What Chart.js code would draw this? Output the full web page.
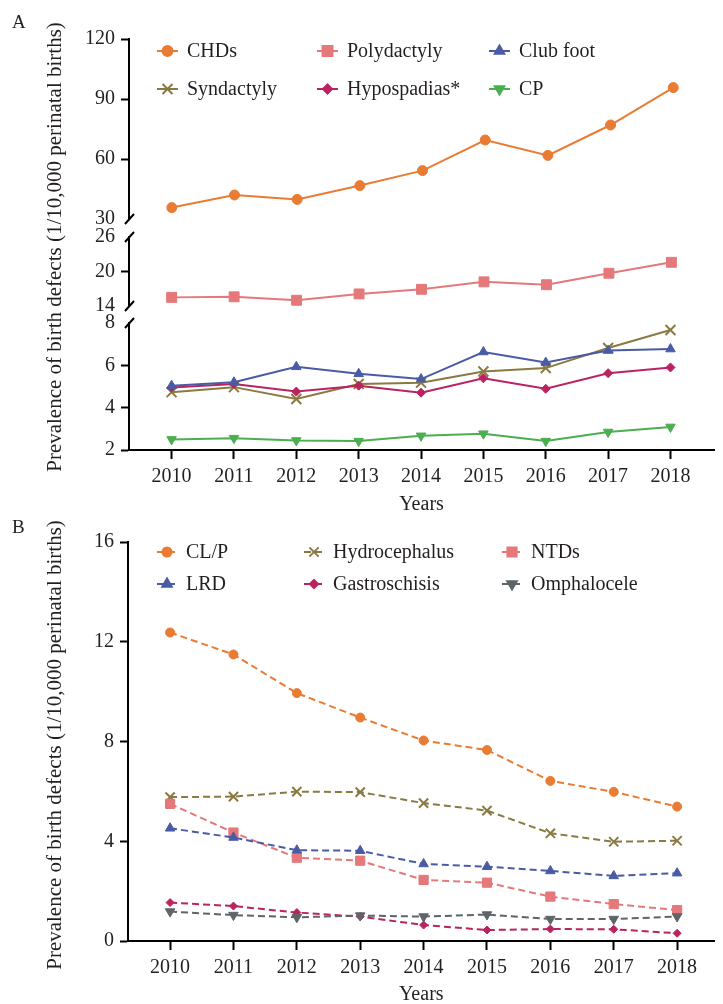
<!DOCTYPE html>
<html>
<head>
<meta charset="utf-8">
<script src="https://cdn.jsdelivr.net/npm/chart.js@4.4.0/dist/chart.umd.min.js"></script>
<style>
html, body { margin: 0; padding: 0; background: #fff; }
#wrap { position: relative; width: 723px; height: 1004px; overflow: hidden; }
#wrap canvas { position: absolute; left: 0; top: 0; }
</style>
</head>
<body>
<div id="wrap">
  <canvas id="a1" width="723" height="1004"></canvas>
  <canvas id="a2" width="723" height="1004"></canvas>
  <canvas id="a3" width="723" height="1004"></canvas>
  <canvas id="b" width="723" height="1004"></canvas>
</div>
<script>
// years on the x axis (both panels)
var years = [2010, 2011, 2012, 2013, 2014, 2015, 2016, 2017, 2018]

// panel A, per 10,000 perinatal births
var chds = [35.7, 42.0, 39.8, 46.7, 54.2, 69.5, 61.8, 77.0, 95.7]
var polydactyly = [15.5, 15.6, 15.0, 16.1, 16.9, 18.2, 17.7, 19.7, 21.6]
var clubFoot = [5.04, 5.20, 5.93, 5.60, 5.35, 6.63, 6.13, 6.70, 6.77]
var syndactyly = [4.73, 4.97, 4.41, 5.12, 5.18, 5.71, 5.87, 6.82, 7.67]
var hypospadias = [4.95, 5.12, 4.76, 5.04, 4.71, 5.39, 4.89, 5.63, 5.90]
var cp = [2.50, 2.56, 2.45, 2.42, 2.67, 2.77, 2.42, 2.85, 3.09]

// panel B
var clp = [12.37, 11.49, 9.94, 8.96, 8.04, 7.66, 6.42, 5.98, 5.39]
var hydrocephalus = [5.77, 5.79, 5.99, 5.97, 5.53, 5.23, 4.32, 3.98, 4.02]
var ntds = [5.50, 4.35, 3.34, 3.22, 2.45, 2.34, 1.78, 1.48, 1.24]
var lrd = [4.52, 4.15, 3.64, 3.62, 3.09, 2.98, 2.81, 2.61, 2.72]
var gastroschisis = [1.54, 1.40, 1.14, 0.98, 0.64, 0.44, 0.48, 0.47, 0.31]
var omphalocele = [1.18, 1.04, 0.95, 1.02, 0.98, 1.06, 0.88, 0.88, 0.98]

// y tick labels for the three broken segments of A, and for B
var ticksA1 = [30, 60, 90, 120]
var ticksA2 = [14, 20, 26]
var ticksA3 = [2, 4, 6, 8]
var ticksB = [0, 4, 8, 12, 16]

var FONT = "'Liberation Serif', 'Times New Roman', serif"
var TEXT = '#231f20'
var ORANGE = '#e97b32', SALMON = '#e5787a', BLUE = '#4a5ba6', OLIVE = '#8a7a41',
    MAGENTA = '#ba2360', GREEN = '#4bae4f', GRAY = '#5e6468'

function series(label, values, color, style, radius, rotation, dashed) {
    return {
        label: label,
        data: years.map(function (y, i) { return {x: y, y: values[i]} }),
        borderColor: color,
        backgroundColor: color,
        pointBackgroundColor: color,
        pointBorderColor: color,
        pointStyle: style,
        pointRadius: radius,
        pointRotation: rotation || 0,
        pointBorderWidth: style == 'crossRot' ? 2 : 1,
        borderWidth: 2,
        borderDash: dashed ? [7, 4] : [],
        tension: 0
    }
}

var dsCHDs = series('CHDs', chds, ORANGE, 'circle', 5)
var dsPoly = series('Polydactyly', polydactyly, SALMON, 'rect', 7)
var dsClub = series('Club foot', clubFoot, BLUE, 'triangle', 5.5)
var dsSynd = series('Syndactyly', syndactyly, OLIVE, 'crossRot', 7)
var dsHypo = series('Hypospadias*', hypospadias, MAGENTA, 'rectRot', 4.5)
var dsCP = series('CP', cp, GREEN, 'triangle', 5.5, 180)

var dsCLP = series('CL/P', clp, ORANGE, 'circle', 4.5, 0, true)
var dsHydro = series('Hydrocephalus', hydrocephalus, OLIVE, 'crossRot', 6.5, 0, true)
var dsNTD = series('NTDs', ntds, SALMON, 'rect', 6.5, 0, true)
var dsLRD = series('LRD', lrd, BLUE, 'triangle', 5.5, 0, true)
var dsGast = series('Gastroschisis', gastroschisis, MAGENTA, 'rectRot', 4, 0, true)
var dsOmph = series('Omphalocele', omphalocele, GRAY, 'triangle', 5.5, 180, true)

// legend laid out on a fixed grid, like the figure
var gridLegend = {
    id: 'gridLegend',
    afterDraw: function (chart, args, o) {
        if (!o.items) return
        var ctx = chart.ctx
        ctx.save()
        o.items.forEach(function (ds, i) {
            var x = o.cols[i % 3], y = o.rows[Math.floor(i / 3)]
            ctx.strokeStyle = ds.borderColor
            ctx.lineWidth = 2
            ctx.setLineDash(ds.borderDash)
            ctx.beginPath()
            ctx.moveTo(x, y)
            ctx.lineTo(x + o.lineLen, y)
            ctx.stroke()
            ctx.setLineDash([])
            ctx.fillStyle = ds.pointBackgroundColor
            Chart.helpers.drawPoint(ctx, {
                pointStyle: ds.pointStyle, radius: ds.pointRadius, rotation: ds.pointRotation,
                borderWidth: ds.pointBorderWidth
            }, x + o.lineLen / 2, y)
            ctx.fillStyle = TEXT
            ctx.font = '20px ' + FONT
            ctx.textBaseline = 'middle'
            ctx.textAlign = 'left'
            ctx.fillText(ds.label, x + o.textGap, y + 1)
        })
        ctx.restore()
    }
}

// panel letter and the long y title
var panelText = {
    id: 'panelText',
    afterDraw: function (chart, args, o) {
        if (!o.letter) return
        var ctx = chart.ctx
        ctx.save()
        ctx.fillStyle = TEXT
        ctx.font = '19px ' + FONT
        ctx.textBaseline = 'middle'
        ctx.textAlign = 'left'
        ctx.fillText(o.letter, 12, o.letterY)
        ctx.translate(55, o.titleY)
        ctx.rotate(-Math.PI / 2)
        ctx.textAlign = 'center'
        ctx.font = '21px ' + FONT
        ctx.fillText('Prevalence of birth defects (1/10,000 perinatal births)', 0, 0)
        ctx.restore()
    }
}

// little slashes where the y axis is cut
var axisBreaks = {
    id: 'axisBreaks',
    afterDraw: function (chart, args, o) {
        if (!o.ends) return
        var ctx = chart.ctx, a = chart.chartArea
        ctx.save()
        ctx.strokeStyle = '#000'
        ctx.lineWidth = 2
        o.ends.forEach(function (e) {
            var y = e == 'top' ? a.top : a.bottom
            ctx.beginPath()
            ctx.moveTo(a.left - 4, y + 5)
            ctx.lineTo(a.left + 5, y - 5)
            ctx.stroke()
        })
        ctx.restore()
    }
}

function makeChart(id, c) {
    return new Chart(document.getElementById(id), {
        type: 'line',
        data: {datasets: c.datasets},
        options: {
            responsive: false,
            animation: false,
            devicePixelRatio: 1,
            layout: {padding: {top: c.top, bottom: c.bottom, left: 0, right: c.right}},
            plugins: {
                legend: {display: false},
                tooltip: {enabled: false},
                gridLegend: c.legend || {},
                panelText: c.panel || {},
                axisBreaks: {ends: c.breaks}
            },
            scales: {
                x: {
                    type: 'linear',
                    display: c.showX,
                    min: c.xMin,
                    max: c.xMax,
                    afterBuildTicks: function (s) { s.ticks = years.map(function (v) { return {value: v} }) },
                    afterFit: function (s) { s.height = c.xHeight },
                    grid: {drawOnChartArea: false, tickLength: 9, tickWidth: 2, tickColor: '#000'},
                    border: {color: '#000', width: 2},
                    ticks: {
                        color: TEXT, font: {family: FONT, size: 20}, padding: 6,
                        maxRotation: 0, autoSkip: false,
                        callback: function (v) { return String(v) }
                    },
                    title: {
                        display: true, text: 'Years', color: TEXT,
                        font: {family: FONT, size: 20, lineHeight: c.titleLH}, padding: 0
                    }
                },
                y: {
                    min: c.yTicks[0],
                    max: c.yTicks[c.yTicks.length - 1],
                    afterBuildTicks: function (s) { s.ticks = c.yTicks.map(function (v) { return {value: v} }) },
                    afterFit: function (s) { s.width = c.yWidth },
                    grid: {
                        drawOnChartArea: false, tickLength: 8, tickWidth: 2,
                        tickColor: function (t) {
                            return (c.cut || []).indexOf(t.tick.value) >= 0 ? 'rgba(0,0,0,0)' : '#000'
                        }
                    },
                    border: {color: '#000', width: 2},
                    ticks: {color: TEXT, font: {family: FONT, size: 20}, padding: 6}
                }
            }
        },
        plugins: [gridLegend, panelText, axisBreaks]
    })
}

var xMinA = 2009.317, xMaxA = 2018.698

makeChart('a1', {
    datasets: [dsCHDs], yTicks: ticksA1, cut: [30], breaks: ['bottom'],
    top: 39, bottom: 785, right: 3, yWidth: 129, showX: false, xHeight: 0,
    xMin: xMinA, xMax: xMaxA,
    legend: {items: [dsCHDs, dsPoly, dsClub, dsSynd, dsHypo, dsCP],
             cols: [157, 317, 489], rows: [51, 89], lineLen: 21, textGap: 30},
    panel: {letter: 'A', letterY: 23, titleY: 247}
})

makeChart('a2', {
    datasets: [dsPoly], yTicks: ticksA2, cut: [14, 26], breaks: ['top', 'bottom'],
    top: 237, bottom: 698, right: 3, yWidth: 129, showX: false, xHeight: 0,
    xMin: xMinA, xMax: xMaxA
})

makeChart('a3', {
    datasets: [dsClub, dsHypo, dsSynd, dsCP], yTicks: ticksA3, cut: [8], breaks: ['top'],
    top: 323, bottom: 487, right: 3, yWidth: 129, showX: true, xHeight: 67, titleLH: 1.2,
    xMin: xMinA, xMax: xMaxA
})

makeChart('b', {
    datasets: [dsOmph, dsGast, dsLRD, dsNTD, dsHydro, dsCLP], yTicks: ticksB,
    top: 542, bottom: 0, right: 0, yWidth: 128, showX: true, xHeight: 63, titleLH: 0.9,
    xMin: 2009.336, xMax: 2018.59,
    legend: {items: [dsCLP, dsHydro, dsNTD, dsLRD, dsGast, dsOmph],
             cols: [157, 304, 502], rows: [552, 584], lineLen: 20, textGap: 29},
    panel: {letter: 'B', letterY: 528, titleY: 745}
})
</script>
</body>
</html>
